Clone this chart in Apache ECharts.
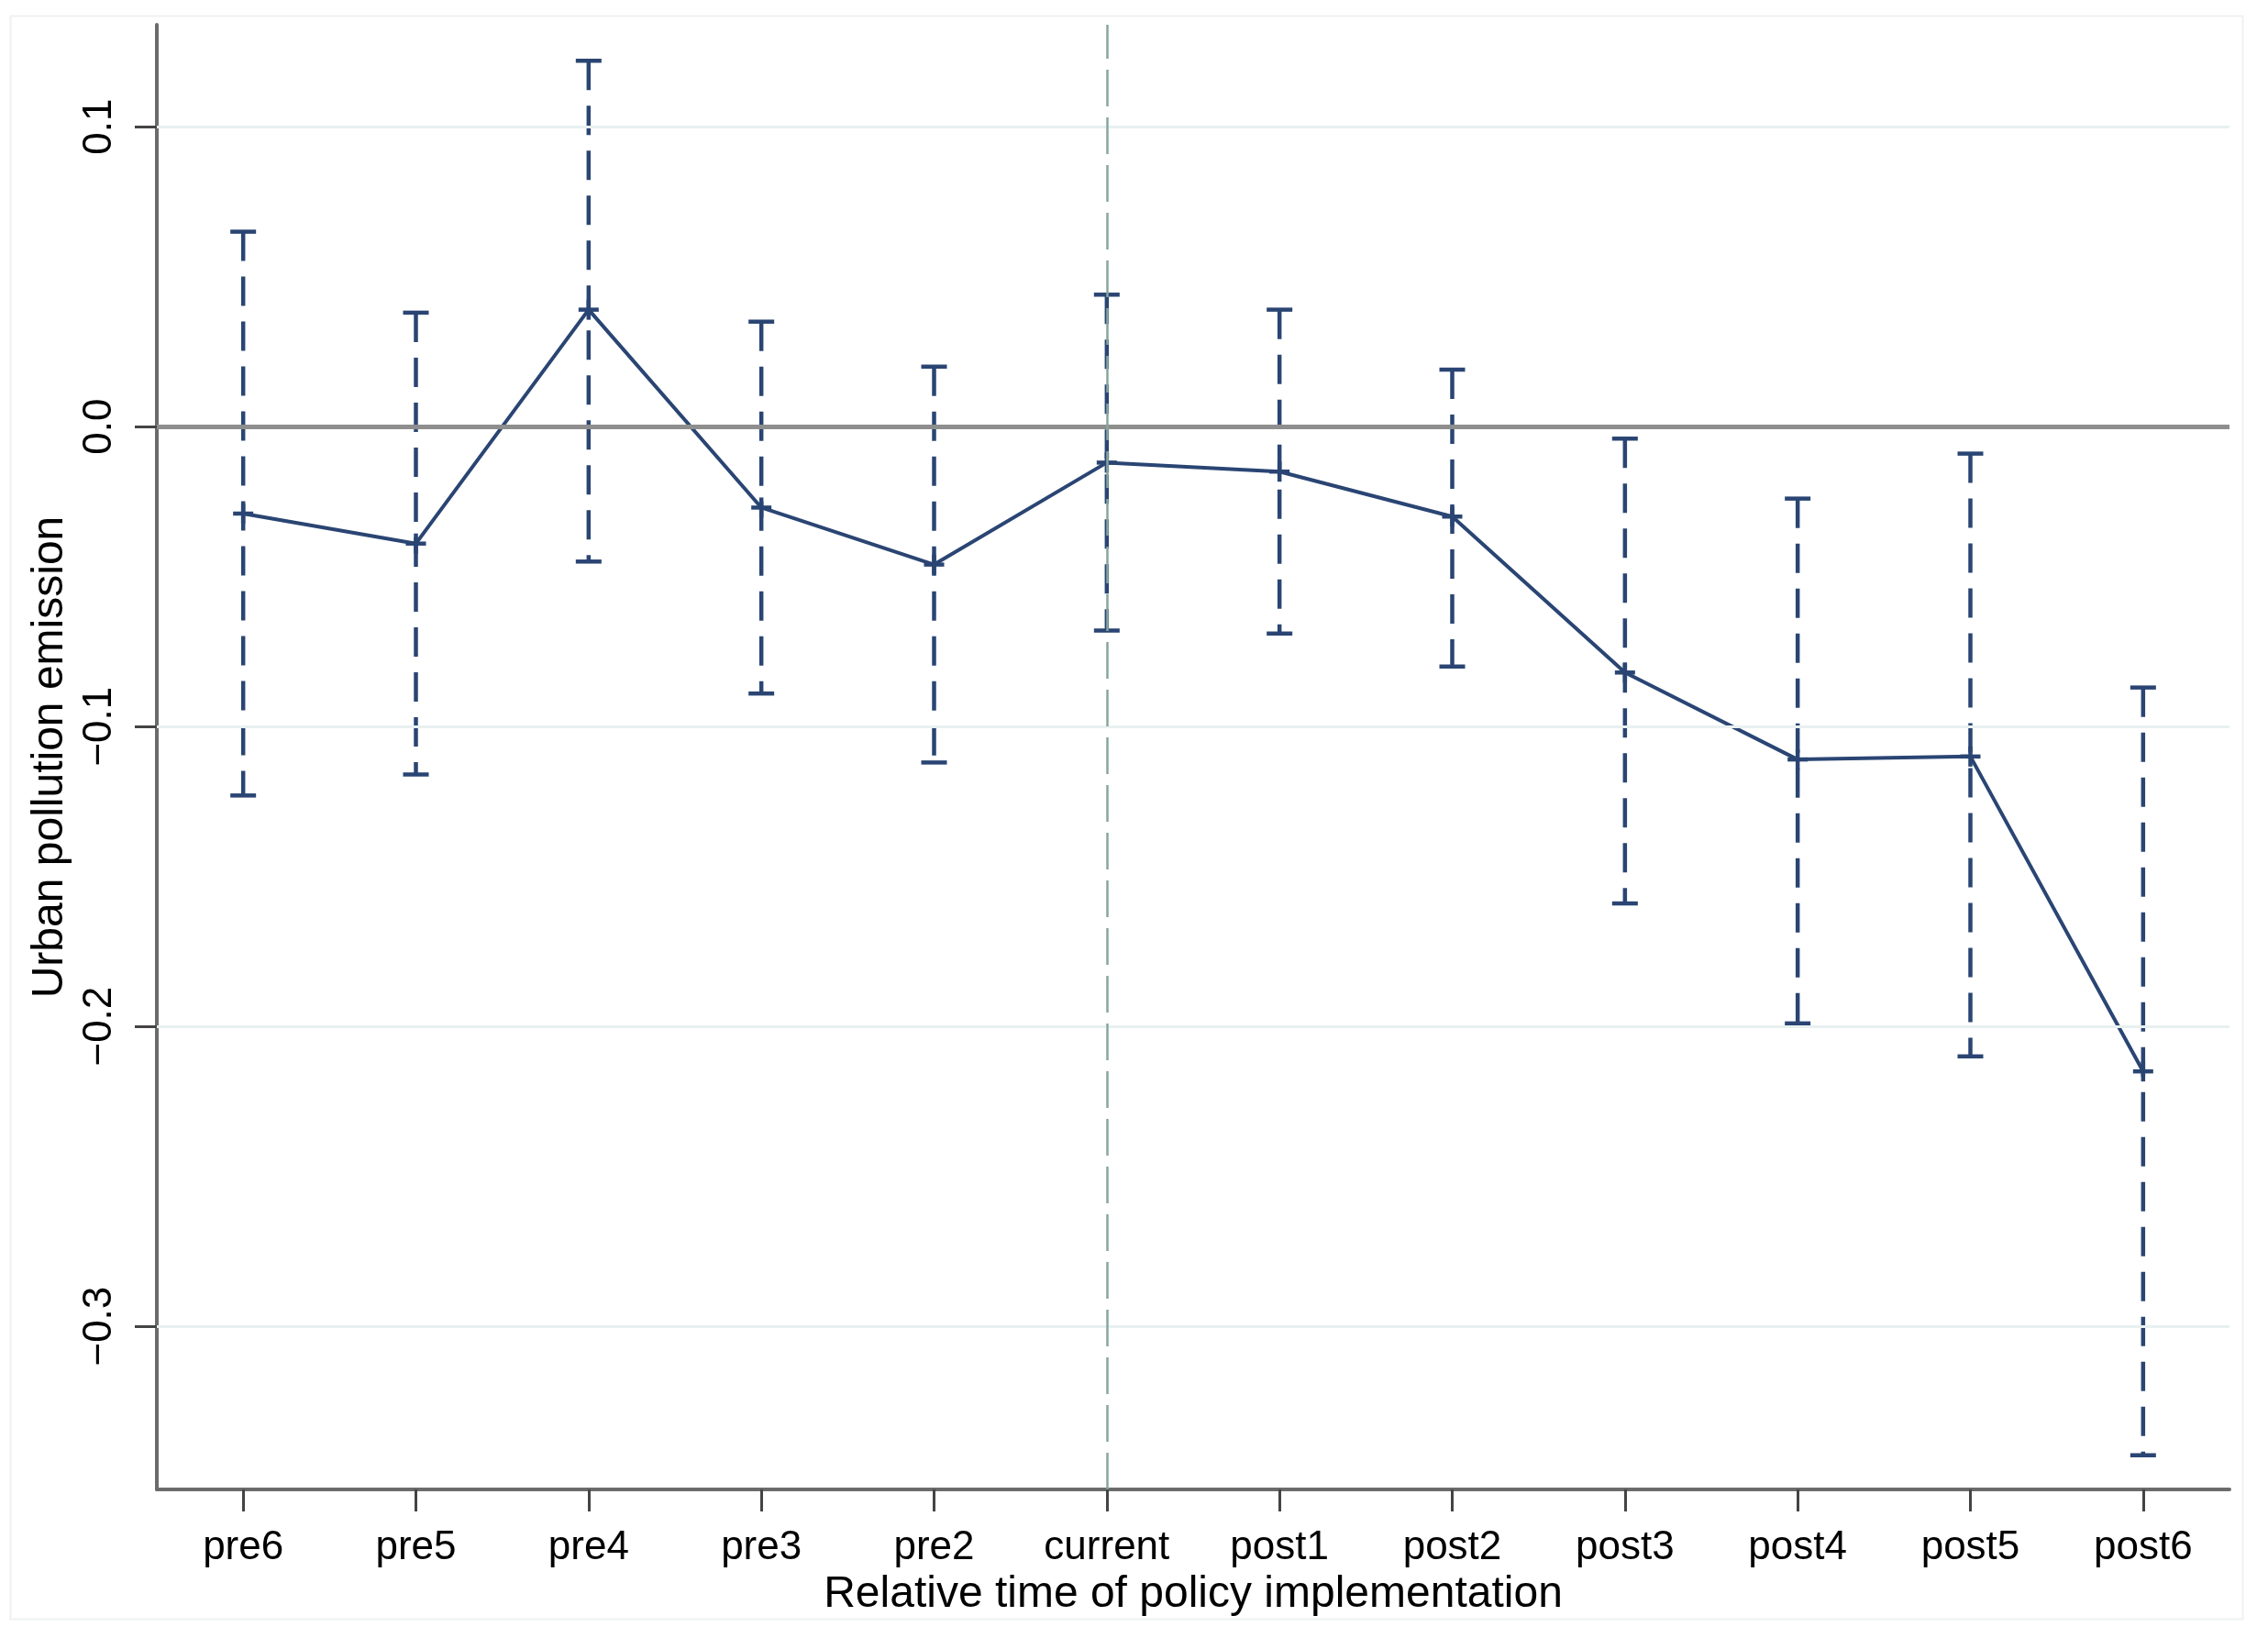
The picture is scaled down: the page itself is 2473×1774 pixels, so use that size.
<!DOCTYPE html>
<html>
<head>
<meta charset="utf-8">
<script src="https://cdn.jsdelivr.net/npm/echarts@6/dist/echarts.min.js"></script>
<style>
html,body{margin:0;padding:0;background:#fff;}
#chart{width:2473px;height:1774px;}
</style>
</head>
<body>
<div id="chart"></div>
<script>
const categories = ['pre6','pre5','pre4','pre3','pre2','current','post1','post2','post3','post4','post5','post6'];
const coef  = [-0.029, -0.039, 0.039, -0.027, -0.046, -0.012, -0.015, -0.030, -0.082, -0.111, -0.110, -0.215];
const upper = [0.065, 0.038, 0.122, 0.035, 0.020, 0.044, 0.039, 0.019, -0.004, -0.024, -0.009, -0.087];
const lower = [-0.123, -0.116, -0.045, -0.089, -0.112, -0.068, -0.069, -0.080, -0.159, -0.199, -0.210, -0.343];
const yTicks = [-0.3, -0.2, -0.1, 0.0, 0.1];
const yTickLabels = ['\u22120.3', '\u22120.2', '\u22120.1', '0.0', '0.1'];
const gridValues = [-0.3, -0.2, -0.1, 0.1];
const refLineY = 0;
const refLineX = 'current';

const navy = '#2a4573';
const chart = echarts.init(document.getElementById('chart'));
const errData = categories.map((c, i) => [i, lower[i], upper[i], coef[i]]);

chart.setOption({
  animation: false,
  backgroundColor: '#ffffff',
  textStyle: { fontFamily: 'Liberation Sans, Arial, sans-serif' },
  graphic: [{
    type: 'rect', left: 9, top: 15, shape: { width: 2434, height: 1748 },
    style: { fill: 'none', stroke: '#eef2f2', lineWidth: 2 }, silent: true, z: -10
  }],
  grid: { left: 171, right: 42, top: 27, bottom: 150, containLabel: false },
  xAxis: {
    type: 'category',
    data: categories,
    boundaryGap: true,
    name: 'Relative time of policy implementation',
    nameLocation: 'middle',
    nameGap: 86,
    nameTextStyle: { fontSize: 48, color: '#000', fontFamily: 'Liberation Sans, Arial, sans-serif' },
    axisLine: { show: true, onZero: false, lineStyle: { color: '#6b6b6b', width: 4 } },
    axisTick: { show: true, alignWithLabel: true, length: 24, lineStyle: { color: '#444', width: 3 } },
    axisLabel: { fontSize: 44, color: '#000', margin: 42, interval: 0 },
    splitLine: { show: false }
  },
  yAxis: {
    type: 'value',
    min: -0.3544,
    max: 0.134,
    name: 'Urban pollution emission',
    nameLocation: 'middle',
    nameGap: 88,
    nameRotate: 90,
    nameTextStyle: { fontSize: 48, color: '#000', fontFamily: 'Liberation Sans, Arial, sans-serif' },
    axisLine: { show: true, onZero: false, lineStyle: { color: '#6b6b6b', width: 4 } },
    axisTick: { show: true, length: 24, customValues: yTicks, lineStyle: { color: '#444', width: 3 } },
    axisLabel: {
      fontSize: 44, color: '#000', rotate: 90, margin: 40, customValues: yTicks,
      formatter: v => { const k = yTicks.findIndex(t => Math.abs(t - v) < 1e-9); return k >= 0 ? yTickLabels[k] : ''; }
    },
    splitLine: { show: false }
  },
  series: [
    {
      type: 'line',
      data: [],
      silent: true,
      markLine: {
        silent: true, symbol: 'none', label: { show: false }, animation: false,
        data: gridValues.map(v => ({ yAxis: v, lineStyle: { color: '#e8f0f0', width: 3, type: 'solid' } }))
          .concat([{ yAxis: refLineY, lineStyle: { color: '#8e8e8e', width: 5, type: 'solid' } }])
          .concat([{ xAxis: refLineX, lineStyle: { color: '#86a69a', width: 2.5, type: [40, 12] } }])
      },
      z: 1
    },
    {
      type: 'custom',
      data: errData,
      encode: { x: 0, y: [1, 2] },
      z: 3,
      renderItem: function (params, api) {
        const x = api.value(0);
        const lo = api.coord([x, api.value(1)]);
        const hi = api.coord([x, api.value(2)]);
        const pt = api.coord([x, api.value(3)]);
        const cap = 14, mk = 11;
        const s = { stroke: navy, lineWidth: 4.5 };
        return {
          type: 'group',
          children: [
            { type: 'line', shape: { x1: hi[0], y1: hi[1], x2: lo[0], y2: lo[1] }, style: { stroke: navy, lineWidth: 4.5, lineDash: [32, 17] } },
            { type: 'line', shape: { x1: hi[0] - cap, y1: hi[1], x2: hi[0] + cap, y2: hi[1] }, style: s },
            { type: 'line', shape: { x1: lo[0] - cap, y1: lo[1], x2: lo[0] + cap, y2: lo[1] }, style: s },
            { type: 'line', shape: { x1: pt[0] - mk, y1: pt[1], x2: pt[0] + mk, y2: pt[1] }, style: s },
            { type: 'line', shape: { x1: pt[0], y1: pt[1] - mk, x2: pt[0], y2: pt[1] + mk }, style: s }
          ]
        };
      }
    },
    {
      type: 'line',
      data: coef,
      symbol: 'none',
      lineStyle: { color: navy, width: 4 },
      z: 4
    }
  ]
});
</script>
</body>
</html>
